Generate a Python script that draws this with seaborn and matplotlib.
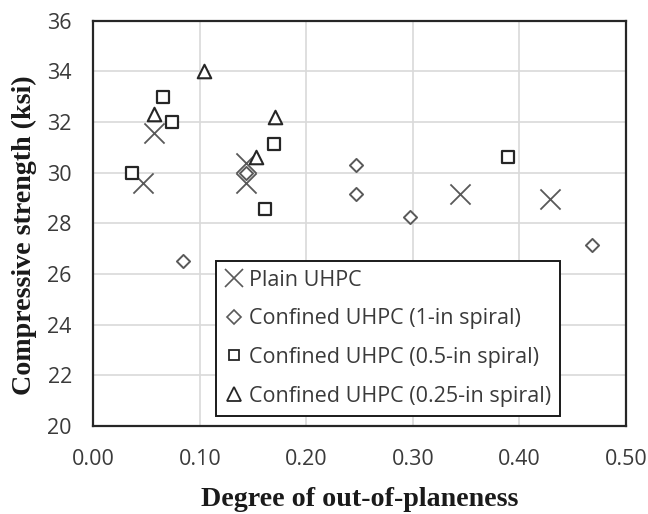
import matplotlib
matplotlib.use("Agg")
import matplotlib.pyplot as plt
from matplotlib.lines import Line2D
import seaborn as sns
import pandas as pd

# Data
plain_x = [0.047, 0.057, 0.143, 0.143, 0.344, 0.429]
plain_y = [29.6, 31.55, 30.4, 29.6, 29.15, 28.95]
spiral1_x = [0.084, 0.143, 0.247, 0.247, 0.297, 0.468]
spiral1_y = [26.5, 30.0, 30.3, 29.15, 28.25, 27.15]
spiral05_x = [0.036, 0.065, 0.074, 0.161, 0.170, 0.389]
spiral05_y = [30.0, 33.0, 32.0, 28.55, 31.15, 30.6]
spiral025_x = [0.057, 0.104, 0.153, 0.171]
spiral025_y = [32.3, 34.0, 30.6, 32.2]
labels = ["Plain UHPC", "Confined UHPC (1-in spiral)",
          "Confined UHPC (0.5-in spiral)", "Confined UHPC (0.25-in spiral)"]
x_ticks = [0.0, 0.1, 0.2, 0.3, 0.4, 0.5]
y_ticks = [20, 22, 24, 26, 28, 30, 32, 34, 36]

sns.set_theme(style="white")
plt.rcParams['font.family'] = ['Open Sans', 'DejaVu Sans']

fig = plt.figure(figsize=(6.48, 5.14), dpi=100)
ax = fig.add_axes([0.144, 0.1712, 0.822, 0.7885])

series = [
    (plain_x, plain_y, 'x', 210, '#595959', 1.3),
    (spiral1_x, spiral1_y, 'D', 45, '#595959', 1.4),
    (spiral05_x, spiral05_y, 's', 75, '#262626', 1.6),
    (spiral025_x, spiral025_y, '^', 95, '#262626', 1.5),
]
for (xs, ys, m, s, c, lw), lab in zip(series, labels):
    df = pd.DataFrame({'x': xs, 'y': ys})
    if m == 'x':
        sns.scatterplot(data=df, x='x', y='y', marker=m, s=s, color=c,
                        linewidth=lw, ax=ax, zorder=3)
    else:
        sns.scatterplot(data=df, x='x', y='y', marker=m, s=s,
                        facecolor='white', edgecolor=c, linewidth=lw,
                        ax=ax, zorder=3)

ax.set_xlim(0, 0.5)
ax.set_ylim(20, 36)
ax.set_xticks(x_ticks)
ax.set_yticks(y_ticks)
ax.set_xticklabels([f"{v:.2f}" for v in x_ticks])
ax.set_yticklabels([str(v) for v in y_ticks])
ax.grid(True, color='#d9d9d9', linewidth=1.2)
ax.set_axisbelow(True)
for sp in ax.spines.values():
    sp.set_color('#262626')
    sp.set_linewidth(1.6)
ax.tick_params(axis='both', length=0, labelsize=15.5, colors='#3a3a3a')
ax.tick_params(axis='y', pad=15.5)
ax.tick_params(axis='x', pad=16.5)

ax.set_xlabel("Degree of out-of-planeness", family='Liberation Serif',
              fontweight='bold', fontsize=20.2, color='#1a1a1a', labelpad=12)
ax.set_ylabel("Compressive strength (ksi)", family='Liberation Serif',
              fontweight='bold', fontsize=20.2, color='#1a1a1a', labelpad=7)

handles = [
    Line2D([], [], linestyle='none', marker='x', markersize=12.5,
           markeredgecolor='#595959', markeredgewidth=1.2),
    Line2D([], [], linestyle='none', marker='D', markersize=7,
           markerfacecolor='white', markeredgecolor='#595959', markeredgewidth=1.2),
    Line2D([], [], linestyle='none', marker='s', markersize=7.5,
           markerfacecolor='white', markeredgecolor='#262626', markeredgewidth=1.3),
    Line2D([], [], linestyle='none', marker='^', markersize=9.5,
           markerfacecolor='white', markeredgecolor='#262626', markeredgewidth=1.3),
]
leg = ax.legend(handles, labels, loc='lower left', bbox_to_anchor=(0.2303, 0.0254),
                borderaxespad=0, fontsize=15.5, frameon=True, fancybox=False,
                labelspacing=0.82, handlelength=0.85, handletextpad=0.25,
                borderpad=0.42, labelcolor='#3a3a3a')
leg.get_frame().set_edgecolor('#1a1a1a')
leg.get_frame().set_linewidth(1.4)
leg.get_frame().set_alpha(1)

# shift the y label slightly downward, keeping its automatic horizontal spot
fig.canvas.draw()
renderer = fig.canvas.get_renderer()
lb = ax.yaxis.label.get_window_extent(renderer)
axb = ax.get_window_extent(renderer)
x_axes = (lb.x1 - axb.x0) / axb.width
ax.yaxis.set_label_coords(x_axes, 0.47)

fig.savefig("out.png", dpi=100)
